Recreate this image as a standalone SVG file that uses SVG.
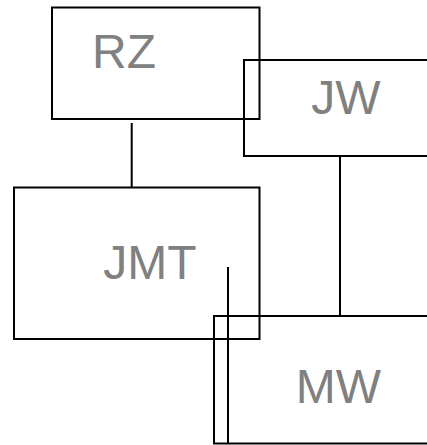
<svg xmlns="http://www.w3.org/2000/svg" width="427" height="445" viewBox="0 0 427 445">
<style>
.box{fill:none;stroke:#000;stroke-width:2}
.lbl{font-family:"Liberation Sans",Arial,sans-serif;font-size:48px;fill:#808080;text-anchor:middle}
.conn{stroke:#000;stroke-width:2;fill:none}
</style>
<rect width="427" height="445" fill="#fff"/>
<g id="RZ"><rect class="box" x="52" y="7.5" width="207.5" height="111.5"/><text class="lbl" x="124" y="68">RZ</text></g>
<g id="JW"><rect class="box" x="244" y="60" width="207" height="96"/><text class="lbl" x="346" y="114">JW</text></g>
<g id="JMT"><rect class="box" x="14" y="187.5" width="245.5" height="151.5"/><text class="lbl" x="150" y="279">JMT</text></g>
<g id="MW"><rect class="box" x="214" y="316" width="246" height="127.5"/><text class="lbl" x="338.5" y="403">MW</text></g>
<g id="connectors">
<line class="conn" x1="131.7" y1="123" x2="131.7" y2="187.5"/>
<line class="conn" x1="340" y1="156" x2="340" y2="316"/>
<line class="conn" x1="228" y1="267" x2="228" y2="443"/>
</g>
</svg>
